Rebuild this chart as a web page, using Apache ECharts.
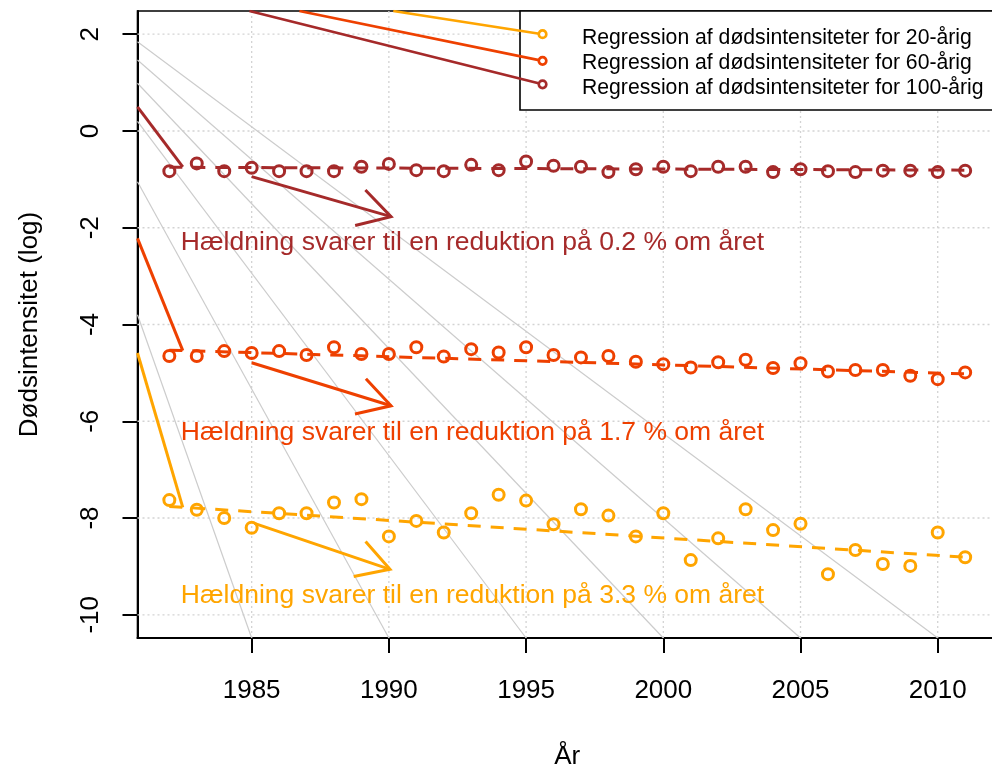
<!DOCTYPE html>
<html><head><meta charset="utf-8">
<script src="https://cdn.jsdelivr.net/npm/echarts@6/dist/echarts.min.js"></script>
<style>html,body{margin:0;padding:0;background:#fff}#c{width:992px;height:770px}</style>
</head><body><div id="c"></div>
<script>
// ---------------- data ----------------
const years = [1982,1983,1984,1985,1986,1987,1988,1989,1990,1991,1992,1993,1994,1995,1996,
               1997,1998,1999,2000,2001,2002,2003,2004,2005,2006,2007,2008,2009,2010,2011];
const mort20 = [-7.63,-7.83,-8.00,-8.20,-7.90,-7.90,-7.68,-7.61,-8.38,-8.06,-8.30,-7.90,-7.52,-7.64,-8.13,
                -7.82,-7.95,-8.38,-7.90,-8.87,-8.42,-7.82,-8.25,-8.12,-9.16,-8.66,-8.95,-8.99,-8.30,-8.81];
const mort60 = [-4.65,-4.65,-4.55,-4.59,-4.55,-4.63,-4.47,-4.61,-4.61,-4.47,-4.66,-4.51,-4.58,-4.47,-4.63,
                -4.68,-4.65,-4.77,-4.82,-4.89,-4.78,-4.73,-4.90,-4.80,-4.97,-4.94,-4.94,-5.06,-5.13,-4.99];
const mort100 = [-0.83,-0.67,-0.83,-0.76,-0.83,-0.83,-0.83,-0.74,-0.68,-0.81,-0.83,-0.70,-0.81,-0.63,-0.72,
                 -0.74,-0.85,-0.79,-0.74,-0.83,-0.74,-0.74,-0.85,-0.79,-0.83,-0.85,-0.82,-0.82,-0.85,-0.82];
const regYears = [1982, 2011];
const reg20 = [-7.76, -8.81];
const reg60 = [-4.53, -5.02];
const reg100 = [-0.75, -0.81];

const xTicks = [1985, 1990, 1995, 2000, 2005, 2010];
const yTicks = [-10, -8, -6, -4, -2, 0, 2];
const xRange = [1980.84, 2012.16];
const yRange = [-10.48, 2.48];

// order of the three groups below: 20-årig, 60-årig, 100-årig
const annotTexts = ['Hældning svarer til en reduktion på 3.3 % om året',
                    'Hældning svarer til en reduktion på 1.7 % om året',
                    'Hældning svarer til en reduktion på 0.2 % om året'];
const annotX = [1982.42, 1982.42, 1982.42];
const annotY = [-9.61, -6.23, -2.30];
const arrowFromX = [1985.1, 1985.0, 1985.0];
const arrowFromY = [-8.11, -4.79, -0.944];
const arrowToX = [1990.04, 1990.08, 1990.08];
const arrowToY = [-9.06, -5.68, -1.77];
const leaderFromX = [1980.84, 1980.84, 1980.84];
const leaderFromY = [-4.59, -2.22, 0.50];
const leaderToX = [1982.49, 1982.49, 1982.49];
const leaderToY = [-7.78, -4.54, -0.74];

const legendNames = ['Regression af dødsintensiteter for 20-årig',
                     'Regression af dødsintensiteter for 60-årig',
                     'Regression af dødsintensiteter for 100-årig'];
const legendFromX = [1990.16, 1986.74, 1984.92];
const legendFromY = [2.48, 2.48, 2.48];
const legendToX = [1995.6, 1995.6, 1995.6];
const legendToY = [2.00, 1.45, 0.965];

const grayFromX = [1980.84, 1980.84, 1980.84, 1980.84, 1980.84, 1980.84];
const grayFromY = [1.845, 1.467, 0.986, 0.20, -1.05, -3.80];
const grayToX = [2010, 2005, 2000, 1995, 1990, 1985];
const grayToY = [-10.48, -10.48, -10.48, -10.48, -10.48, -10.48];

// ---------------- style ----------------
const colors = ['#FFA500', '#EE4000', '#A52A2A']; // 20, 60, 100
const FONT = '"Liberation Sans", Arial, Helvetica, sans-serif';

const chart = echarts.init(document.getElementById('c'), null, {renderer: 'canvas'});

const series = [];

// grid lines (dotted)
series.push({
  type: 'custom', silent: true, z: 1,
  data: xTicks.map(v => [v, 0]).concat(yTicks.map(v => [v, 1])),
  encode: {x: -1, y: -1},
  renderItem(params, api) {
    const v = api.value(0), o = api.value(1);
    let p0, p1;
    if (o === 0) { p0 = api.coord([v, yRange[0]]); p1 = api.coord([v, yRange[1]]); }
    else { p0 = api.coord([xRange[0], v]); p1 = api.coord([xRange[1], v]); }
    return {type: 'line', shape: {x1: p0[0], y1: p0[1], x2: p1[0], y2: p1[1]},
            style: {stroke: '#d3d3d3', lineWidth: 1.3, lineDash: [2, 3]}};
  }
});

// gray reference lines
grayFromX.forEach((x, i) => {
  series.push({
    type: 'line', silent: true, z: 2, clip: true, symbol: 'none',
    data: [[x, grayFromY[i]], [grayToX[i], grayToY[i]]],
    lineStyle: {color: '#cccccc', width: 1.2}
  });
});

// regression lines (dashed) + data points
const mort = [mort20, mort60, mort100];
const regs = [reg20, reg60, reg100];
for (let k = 0; k < 3; k++) {
  series.push({
    type: 'line', silent: true, z: 3, symbol: 'none',
    data: regYears.map((y, j) => [y, regs[k][j]]),
    lineStyle: {color: colors[k], width: 3, type: [13, 10]}
  });
  series.push({
    type: 'scatter', silent: true, z: 4,
    data: years.map((y, j) => [y, mort[k][j]]),
    symbol: 'circle', symbolSize: 11,
    itemStyle: {color: 'rgba(0,0,0,0)', borderColor: colors[k], borderWidth: 3, opacity: 1}
  });
  // leader line
  series.push({
    type: 'line', silent: true, z: 3, symbol: 'none', clip: true,
    data: [[leaderFromX[k], leaderFromY[k]], [leaderToX[k], leaderToY[k]]],
    lineStyle: {color: colors[k], width: 3}
  });
  // legend line with end marker
  series.push({
    type: 'line', silent: true, z: 6, clip: true,
    data: [{value: [legendFromX[k], legendFromY[k]], symbol: 'none'},
           {value: [legendToX[k], legendToY[k]], symbol: 'circle'}],
    symbolSize: 7.5, showSymbol: true,
    itemStyle: {color: '#fff', borderColor: colors[k], borderWidth: 2.7},
    lineStyle: {color: colors[k], width: 2.7}
  });
}

// arrows
series.push({
  type: 'custom', silent: true, z: 5,
  data: arrowFromX.map((x, i) => [x, arrowFromY[i], arrowToX[i], arrowToY[i], i]),
  encode: {x: [0, 2], y: [1, 3]},
  renderItem(params, api) {
    const p0 = api.coord([api.value(0), api.value(1)]);
    const p1 = api.coord([api.value(2), api.value(3)]);
    const col = colors[api.value(4)];
    const ang = Math.atan2(p1[1] - p0[1], p1[0] - p0[0]);
    const L = 37, a = Math.PI / 6;
    const b1 = [p1[0] - L * Math.cos(ang - a), p1[1] - L * Math.sin(ang - a)];
    const b2 = [p1[0] - L * Math.cos(ang + a), p1[1] - L * Math.sin(ang + a)];
    return {type: 'group', children: [
      {type: 'line', shape: {x1: p0[0], y1: p0[1], x2: p1[0], y2: p1[1]}, style: {stroke: col, lineWidth: 3}},
      {type: 'polyline', shape: {points: [b1, p1, b2]}, style: {stroke: col, lineWidth: 3, fill: null}}
    ]};
  }
});

// annotation texts
series.push({
  type: 'custom', silent: true, z: 5,
  data: annotX.map((x, i) => [x, annotY[i], i]),
  encode: {x: 0, y: 1},
  renderItem(params, api) {
    const p = api.coord([api.value(0), api.value(1)]);
    const i = api.value(2);
    return {type: 'text', x: p[0], y: p[1],
            style: {text: annotTexts[i], fill: colors[i], fontSize: 26.5, fontFamily: FONT,
                    align: 'left', verticalAlign: 'middle'}};
  }
});

const option = {
  backgroundColor: '#fff',
  animation: false,
  grid: {left: 137.5, top: 11, right: -5, bottom: 132, show: true, borderColor: '#000', borderWidth: 1.6,
         backgroundColor: 'transparent', containLabel: false, outerBoundsMode: 'none'},
  xAxis: {
    type: 'value', min: xRange[0], max: xRange[1],
    name: 'År', nameLocation: 'middle', nameGap: 106,
    nameTextStyle: {fontSize: 26, fontFamily: FONT, color: '#000'},
    axisLine: {show: true, onZero: false, lineStyle: {color: '#000', width: 2}},
    axisTick: {show: true, customValues: xTicks, length: 15, lineStyle: {color: '#000', width: 2}},
    axisLabel: {customValues: xTicks, formatter: v => String(v), fontSize: 26, fontFamily: FONT, color: '#000', margin: 40},
    splitLine: {show: false}
  },
  yAxis: {
    type: 'value', min: yRange[0], max: yRange[1],
    name: 'Dødsintensitet (log)', nameLocation: 'middle', nameGap: 95,
    nameTextStyle: {fontSize: 26, fontFamily: FONT, color: '#000'},
    axisLine: {show: true, onZero: false, lineStyle: {color: '#000', width: 2}},
    axisTick: {show: true, customValues: yTicks, length: 15, lineStyle: {color: '#000', width: 2}},
    axisLabel: {customValues: yTicks, formatter: v => String(v), rotate: 90, fontSize: 26, fontFamily: FONT, color: '#000', margin: 34},
    splitLine: {show: false}
  },
  graphic: [
    {type: 'rect', z: 5, shape: {x: 520, y: 11, width: 500, height: 99},
     style: {fill: '#fff', stroke: '#000', lineWidth: 1.6}},
    ...legendNames.map((t, i) => ({
      type: 'text', z: 7, x: 582, y: [38.5, 63.5, 88][i],
      style: {text: t, fill: '#000', fontSize: 21.2, fontFamily: FONT, align: 'left', verticalAlign: 'middle'}
    }))
  ],
  series: series
};
chart.setOption(option);
</script>
</body></html>
